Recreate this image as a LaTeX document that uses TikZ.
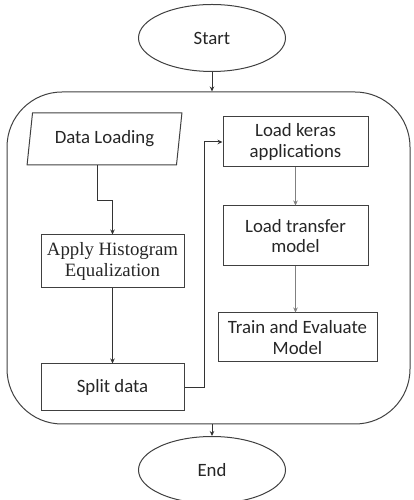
\documentclass[tikz,border=0pt]{standalone}
\usepackage{fontspec}
\setmainfont{Carlito}
\newfontfamily\serifface{Liberation Serif}
\usetikzlibrary{shapes.geometric,arrows.meta}
\begin{document}
\begin{tikzpicture}[x=1pt,y=1pt,
  every node/.style={font=\fontsize{18.8}{20.5}\selectfont, text=black!85, align=center},
  terminal/.style={draw=black!75, line width=1pt, ellipse, minimum width=147, minimum height=67, inner sep=0},
  stepbox/.style={draw=black!75, line width=1pt, rectangle, inner sep=0},
  iobox/.style={draw=black!75, line width=1pt, trapezium, trapezium left angle=77, trapezium right angle=103,
                trapezium stretches=true, minimum width=155, minimum height=52, inner sep=0},
  flow/.style={draw=black!80, line width=1pt, -{Stealth[length=5pt,width=4.5pt]}},
  thinflow/.style={draw=black!50, line width=0.7pt, -{Stealth[length=5pt,width=4.5pt]}}
]
\useasboundingbox (0,0) rectangle (414,500);

% terminals
\node[terminal] (start) at (212,462) {Start};
\node[terminal] (end) at (212,30) {End};

% enclosing frame of the processing stages
\node[draw=black!75, line width=1pt, rectangle, rounded corners=55, minimum width=403, minimum height=332, inner sep=0] (frame) at (208.5,242) {};

% left column
\node[iobox] (load) at (104.5,361) {Data Loading};
\node[stepbox, minimum width=143, minimum height=53] (hist) at (112.5,238.5) {\serifface Apply Histogram\\\serifface Equalization};
\node[stepbox, minimum width=143, minimum height=47] (split) at (112.5,112.5) {Split data};

% right column
\node[stepbox, minimum width=145, minimum height=50] (keras) at (295.5,358) {Load keras\\applications};
\node[stepbox, minimum width=145, minimum height=60] (transfer) at (295.5,264) {Load transfer\\model};
\node[stepbox, minimum width=159, minimum height=49] (train) at (297.5,162.5) {Train and Evaluate\\Model};

% connectors
\draw[flow] (start.south) -- (start.south |- frame.north);
\draw[flow] ([xshift=-7.5pt]load.south) -- ++(0,-35) -| (hist.north);
\draw[flow] (hist.south) -- (split.north);
\draw[flow] (split.east) -- ++(20,0) |- (keras.west);
\draw[thinflow] (keras.south) -- (transfer.north);
\draw[thinflow] (transfer.south) -- (transfer.south |- train.north);
\draw[flow] (frame.south -| end.north) -- (end.north);
\end{tikzpicture}
\end{document}
